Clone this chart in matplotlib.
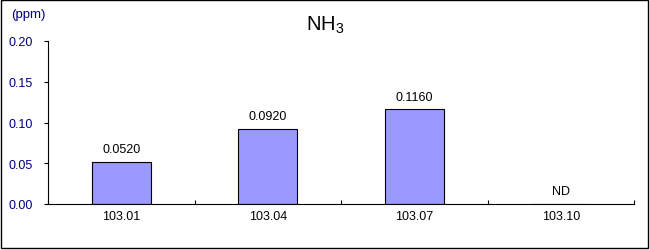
import matplotlib.pyplot as plt
from matplotlib.patches import Rectangle

plt.rcParams['font.family'] = ['Liberation Sans', 'DejaVu Sans']
plt.rcParams['mathtext.fontset'] = 'custom'
plt.rcParams['mathtext.rm'] = 'Liberation Sans'
plt.rcParams['mathtext.it'] = 'Liberation Sans:italic'

months = ['103.01', '103.04', '103.07', '103.10']
values = [0.052, 0.092, 0.116, 0.0]
labels = ['0.0520', '0.0920', '0.1160', 'ND']
yticks = [0.00, 0.05, 0.10, 0.15, 0.20]

fig = plt.figure(figsize=(6.5, 2.51), dpi=100)
ax = fig.add_axes([48/650, 46/251, 586/650, 163/251])

x = list(range(len(months)))
ax.bar(x, values, width=0.40, color='#9999ff', edgecolor='black', linewidth=0.8, zorder=2)

for i in range(len(x)):
    ax.annotate(labels[i], (x[i], values[i]), xytext=(0, 5), textcoords='offset points',
                ha='center', va='bottom', fontsize=9)

ax.set_xlim(-0.5, len(months) - 0.5)
ax.set_ylim(0, 0.20)
ax.set_yticks(yticks)
ax.set_yticklabels(['%.2f' % v for v in yticks], color='#000080', fontsize=9)
ax.tick_params(axis='y', direction='out', length=3, width=0.8, pad=8)

# category labels centred, ticks on the boundaries
ax.set_xticks([i - 0.5 for i in range(len(months) + 1)])
ax.set_xticklabels([])
ax.set_xticks(x, minor=True)
ax.set_xticklabels(months, minor=True, fontsize=9)
ax.tick_params(axis='x', which='major', direction='in', length=3, width=0.8)
ax.tick_params(axis='x', which='minor', length=0, pad=4)

ax.spines['top'].set_visible(False)
ax.spines['right'].set_visible(False)
ax.spines['left'].set_linewidth(0.8)
ax.spines['bottom'].set_linewidth(0.8)

fig.text(0.5, 1 - 25/251, r'NH$_\mathrm{3}$', ha='center', va='center', fontsize=14.5)
fig.text(11/650, 1 - 15/251, '(ppm)', ha='left', va='center', fontsize=9.5, color='#000080')

fig.patches.append(Rectangle((1/650, 2/251), 647/650, 248/251, transform=fig.transFigure,
                             fill=False, edgecolor='black', linewidth=1))

fig.savefig('out.png', dpi=100)
